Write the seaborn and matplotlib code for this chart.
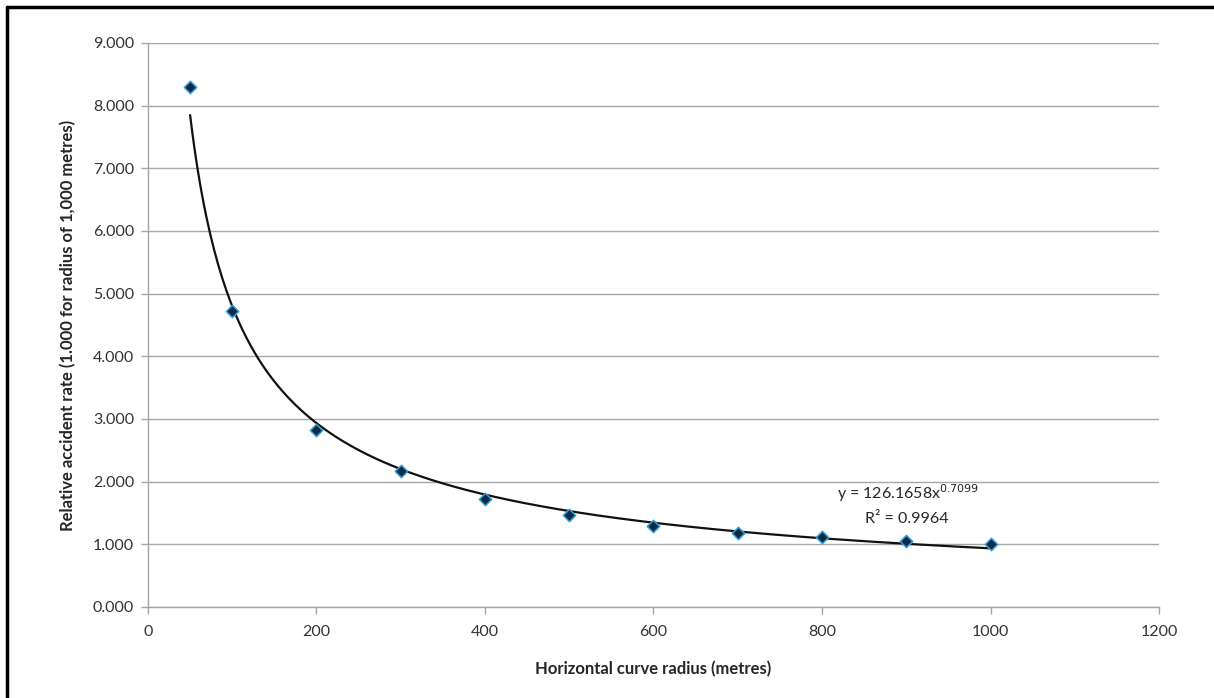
import numpy as np
import pandas as pd
import matplotlib
matplotlib.use("Agg")
import matplotlib.pyplot as plt
from matplotlib.lines import Line2D
import seaborn as sns

# Measured relative accident rates by horizontal curve radius
radius = [50, 100, 200, 300, 400, 500, 600, 700, 800, 900, 1000]
rate = [8.30, 4.73, 2.83, 2.17, 1.73, 1.47, 1.30, 1.18, 1.11, 1.05, 1.00]

# Power trendline y = a * x^b
coef_a = 126.1658
coef_b = -0.7099
r_squared = 0.9964

x_ticks = [0, 200, 400, 600, 800, 1000, 1200]
y_ticks = [0, 1, 2, 3, 4, 5, 6, 7, 8, 9]

sns.set_theme(style="white")
plt.rcParams["font.family"] = ["Lato", "DejaVu Sans"]

fig = plt.figure(figsize=(12.14, 6.98), dpi=100)
ax = fig.add_axes([0.1219, 0.1304, 0.8328, 0.8080])

points = pd.DataFrame({"radius": radius, "rate": rate})
fit_x = np.linspace(min(radius), max(radius), 400)
fit = pd.DataFrame({"radius": fit_x, "rate": coef_a * fit_x ** coef_b})

sns.lineplot(data=fit, x="radius", y="rate", ax=ax, color="#111111",
             linewidth=1.6, zorder=3)
sns.scatterplot(data=points, x="radius", y="rate", ax=ax, marker="D", s=40,
                color="#0f2a44", edgecolor="#3a9fd8", linewidth=1.1, zorder=4)

ax.set_xlim(0, 1200)
ax.set_ylim(0, 9)
ax.set_xticks(x_ticks)
ax.set_yticks(y_ticks)
ax.set_yticklabels([f"{v:.3f}" for v in y_ticks])
ax.yaxis.grid(True, color="#a6a6a6", linewidth=1.0)
ax.xaxis.grid(False)

for side in ("top", "right"):
    ax.spines[side].set_visible(False)
for side in ("left", "bottom"):
    ax.spines[side].set_color("#a6a6a6")
    ax.spines[side].set_linewidth(1.0)

ax.tick_params(axis="both", which="major", direction="out", length=5,
               width=1.0, color="#a6a6a6", labelsize=11.5,
               labelcolor="#333333", pad=5, left=True, bottom=True)
ax.tick_params(axis="x", pad=8)

ax.set_xlabel("Horizontal curve radius (metres)", fontsize=12,
              fontweight="bold", color="#262626", labelpad=16)
ax.set_ylabel("Relative accident rate (1.000 for radius of 1,000 metres)",
              fontsize=12, fontweight="bold", color="#262626", labelpad=12)

ax.text(818, 1.81, r"y = 126.1658x$^{0.7099}$", fontsize=11.5, color="#262626",
        ha="left", va="center")
ax.text(851, 1.41, f"R² = {r_squared:.4f}", fontsize=11.5, color="#262626",
        ha="left", va="center")

# Frame lines along the top and left of the figure
fig.add_artist(Line2D([0.0055, 1.0], [0.9905, 0.9905], transform=fig.transFigure,
                      color="black", linewidth=2.5))
fig.add_artist(Line2D([0.0055, 0.0055], [0.0, 0.9905], transform=fig.transFigure,
                      color="black", linewidth=2.5))

fig.savefig("out.png", dpi=100)
